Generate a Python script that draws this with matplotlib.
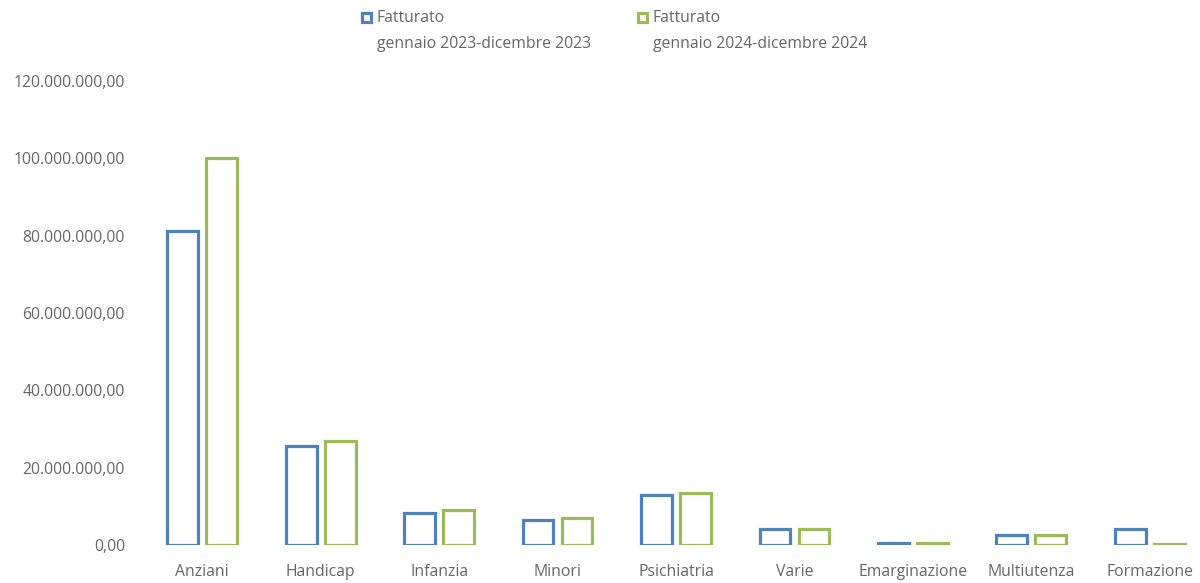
import matplotlib
matplotlib.use("Agg")
import matplotlib.pyplot as plt
from matplotlib.patches import Rectangle
from matplotlib.ticker import FuncFormatter
import numpy as np

categories = ["Anziani", "Handicap", "Infanzia", "Minori", "Psichiatria",
              "Varie", "Emarginazione", "Multiutenza", "Formazione"]
fatturato_2023 = [81.2e6, 25.6e6, 8.3e6, 6.5e6, 12.9e6, 4.1e6, 0.4e6, 2.6e6, 4.1e6]
fatturato_2024 = [100.0e6, 26.9e6, 9.0e6, 7.0e6, 13.4e6, 4.1e6, 0.4e6, 2.6e6, 0.3e6]
series_title = "Fatturato"
series_periods = ["gennaio 2023-dicembre 2023", "gennaio 2024-dicembre 2024"]
y_ticks = [0, 20e6, 40e6, 60e6, 80e6, 100e6, 120e6]

BLUE = "#4F81BD"
GREEN = "#9BBB59"
TEXT = "#666666"
FS = 11.3

plt.rcParams["font.family"] = ["Open Sans", "DejaVu Sans"]

W, H = 1200, 583
fig = plt.figure(figsize=(W / 100, H / 100), dpi=100)
ax = fig.add_axes([143 / W, 1 - 545 / H, (1209 - 143) / W, (545 - 81) / H])

x = np.arange(len(categories))
w = 0.26
off = 0.165
ax.bar(x - off, fatturato_2023, width=w, facecolor="white", edgecolor=BLUE, linewidth=2.3)
ax.bar(x + off, fatturato_2024, width=w, facecolor="white", edgecolor=GREEN, linewidth=2.3)

ax.set_xlim(-0.5, len(categories) - 0.5)
ax.set_ylim(0, 120e6)
ax.set_yticks(y_ticks)


def it_fmt(v, _):
    s = f"{v:,.2f}"
    return s.replace(",", "X").replace(".", ",").replace("X", ".")


ax.yaxis.set_major_formatter(FuncFormatter(it_fmt))
ax.set_xticks(x)
ax.set_xticklabels(categories)
ax.tick_params(axis="both", length=0, colors=TEXT, labelsize=FS)
ax.tick_params(axis="y", pad=13)
ax.tick_params(axis="x", pad=14)
for s in ax.spines.values():
    s.set_visible(False)

# legend: square marker, series name and period on a second line
for color, period, mx in zip([BLUE, GREEN], series_periods, [362, 638]):
    fig.patches.append(Rectangle((mx / W, 1 - 22 / H), 9 / W, 9 / H,
                                 transform=fig.transFigure, facecolor="white",
                                 edgecolor=color, linewidth=2.3))
    fig.text((mx + 15) / W, 1 - 18 / H, series_title, color=TEXT, fontsize=FS,
             ha="left", va="center")
    fig.text((mx + 15) / W, 1 - 44 / H, period, color=TEXT, fontsize=FS,
             ha="left", va="center")

fig.savefig("out.png", dpi=100, facecolor="white")
